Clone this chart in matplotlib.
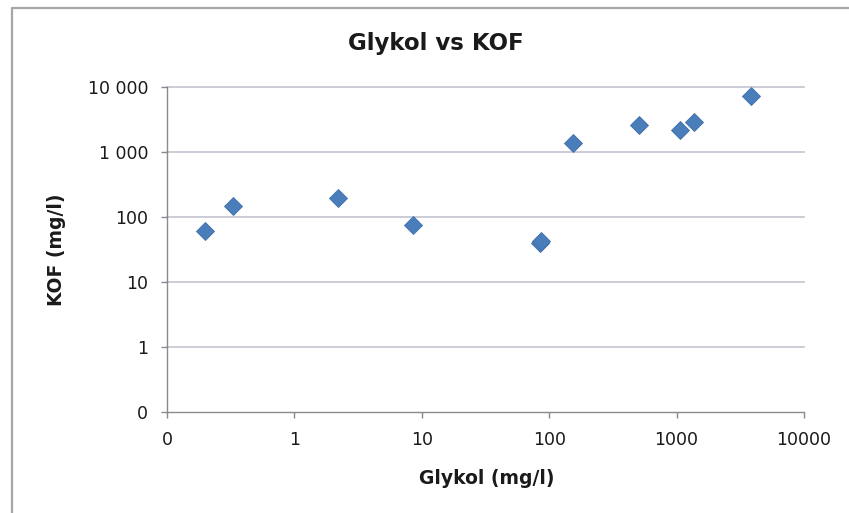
import matplotlib
matplotlib.use('Agg')
import matplotlib.pyplot as plt
from matplotlib.lines import Line2D
from matplotlib.ticker import FixedLocator, FixedFormatter, NullLocator

# Glykol / KOF measurements (mg/l)
glykol = [0.2, 0.33, 2.2, 8.5, 85, 87, 153, 510, 1060, 1370, 3830]
kof = [61, 148, 196, 75, 40, 43, 1400, 2580, 2180, 2930, 7280]

# axis ticks and their labels (0.1 is shown as "0")
xticks = [0.1, 1, 10, 100, 1000, 10000]
xlabels = ['0', '1', '10', '100', '1000', '10000']
yticks = [0.1, 1, 10, 100, 1000, 10000]
ylabels = ['0', '1', '10', '100', '1 000', '10 000']

W, H = 849, 513
fig = plt.figure(figsize=(W/100, H/100), dpi=100)
fig.patch.set_facecolor('white')

# chart area in pixels: left 167, right 804, top 87, bottom 412
ax = fig.add_axes([167/W, 1-412/H, (804-167)/W, (412-87)/H])
ax.set_xscale('log')
ax.set_yscale('log')
ax.set_xlim(0.1, 10000)
ax.set_ylim(0.1, 10000)

# horizontal gridlines only
for y in yticks[1:]:
    ax.axhline(y, color='#c8c8d4', lw=1.3, zorder=1, clip_on=False)

ax.plot(glykol, kof, linestyle='none', marker='D', markersize=9,
        color='#4a7ebb', markeredgecolor='#3f6fa8', markeredgewidth=0.6, zorder=3)

for s in ['top', 'right']:
    ax.spines[s].set_visible(False)
for s in ['left', 'bottom']:
    ax.spines[s].set_color('#8a8a8a')
    ax.spines[s].set_linewidth(1.0)

ax.xaxis.set_major_locator(FixedLocator(xticks))
ax.xaxis.set_major_formatter(FixedFormatter(xlabels))
ax.yaxis.set_major_locator(FixedLocator(yticks))
ax.yaxis.set_major_formatter(FixedFormatter(ylabels))
ax.xaxis.set_minor_locator(NullLocator())
ax.yaxis.set_minor_locator(NullLocator())
ax.tick_params(axis='both', colors='#8a8a8a', length=4.5, width=1.0,
               labelcolor='#1a1a1a', labelsize=12.5)
ax.tick_params(axis='x', pad=9)
ax.tick_params(axis='y', pad=9)

fig.text(436/W, 1-50/H, 'Glykol vs KOF', ha='center', va='baseline',
         fontsize=16.5, fontweight='bold', color='#1a1a1a')
fig.text(487/W, 1-484/H, 'Glykol (mg/l)', ha='center', va='baseline',
         fontsize=13.5, fontweight='bold', color='#1a1a1a')
fig.text(56/W, 1-250/H, 'KOF (mg/l)', ha='center', va='center', rotation=90,
         fontsize=13.5, fontweight='bold', color='#1a1a1a')

# chart frame (left and top edges)
fig.add_artist(Line2D([12/W, 12/W, 1.0], [0.0, 1-8/H, 1-8/H],
                      transform=fig.transFigure, color='#a6a6a6', lw=1.6))

fig.savefig('out.png', dpi=100)
